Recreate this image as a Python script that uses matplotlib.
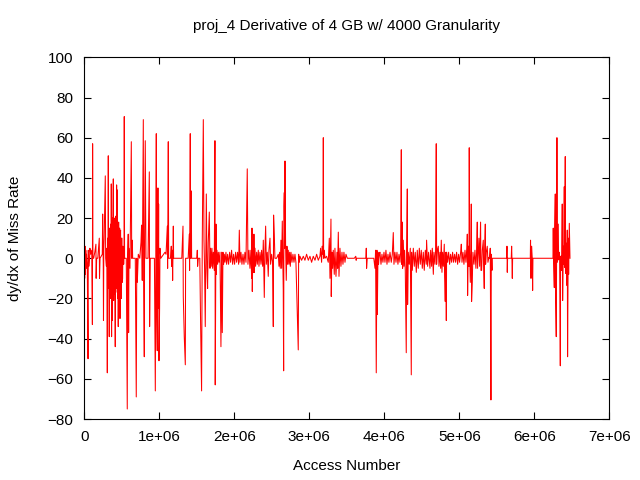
import matplotlib
matplotlib.use("Agg")
import matplotlib.pyplot as plt
from matplotlib.ticker import FuncFormatter, MultipleLocator

plt.rcParams['font.family'] = ['Liberation Sans', 'DejaVu Sans']

# (access number in millions, dy/dx), burst by burst
burst_start = [
    (0.000, 3), (0.005, -10), (0.010, 6), (0.015, -8), (0.020, 4), (0.025, -5),
    (0.030, 2), (0.040, -3), (0.050, -50), (0.053, 4), (0.060, -4), (0.070, 0),
    (0.075, 5), (0.085, 2), (0.100, 4), (0.108, -33), (0.111, 57), (0.115, 0),
    (0.125, 0), (0.140, 3), (0.155, 7), (0.158, -10), (0.165, 0), (0.180, 0),
    (0.200, 10), (0.203, -10), (0.210, 0), (0.240, 2), (0.245, 22), (0.253, -3),
    (0.256, -31), (0.260, 4), (0.265, 10), (0.280, 41), (0.285, 0), (0.295, -4),
]
burst_dense = [
    (0.300, 5), (0.307, -57), (0.312, 10), (0.316, -10), (0.320, 51), (0.324, -15),
    (0.328, 12), (0.333, -39), (0.337, 15), (0.342, 14), (0.346, -15), (0.350, -20),
    (0.354, 17), (0.358, -12), (0.360, 37), (0.364, -39), (0.367, 19), (0.370, -16),
    (0.373, -31), (0.377, 20), (0.380, -14), (0.382, 20), (0.387, 39.5), (0.391, -21),
    (0.394, 18), (0.397, -18), (0.400, 20), (0.404, -15), (0.407, 19), (0.409, -10),
    (0.413, -44), (0.416, 18), (0.419, -17), (0.422, 21), (0.426, -14), (0.431, 36.5),
    (0.436, -15), (0.440, 34), (0.444, -20), (0.448, 16), (0.453, -34), (0.458, 18),
    (0.462, -16), (0.467, -12), (0.471, 15), (0.476, -30), (0.480, 12), (0.484, 14),
    (0.488, -14), (0.493, -20), (0.497, 10), (0.502, 10), (0.506, -12), (0.511, -10),
    (0.515, 6), (0.520, 4), (0.525, -3), (0.530, 2),
]
burst_early = [
    (0.533, 70.5), (0.537, 0), (0.560, 0), (0.573, -75), (0.578, 0), (0.586, 12),
    (0.591, -37), (0.596, 5), (0.609, -5), (0.627, 58), (0.632, 0), (0.640, 9),
    (0.645, 0), (0.680, 0), (0.693, -69), (0.700, 0), (0.707, -12), (0.720, 2),
    (0.740, 0), (0.756, 8), (0.764, 16.5), (0.773, -11), (0.778, 15), (0.787, 69),
    (0.791, -10), (0.800, -49), (0.804, 8), (0.813, 58.5), (0.822, 0), (0.850, 0),
    (0.867, 43), (0.871, -34), (0.880, 0), (0.935, 0), (0.947, -66), (0.951, -27),
    (0.960, 62), (0.964, -22), (0.973, -46), (0.978, 10), (0.982, 35), (0.986, -25),
    (0.991, 27), (0.996, -51), (1.004, -25), (1.009, 5), (1.020, 0), (1.076, 3),
    (1.090, 2), (1.107, 16), (1.111, -5), (1.120, 58), (1.125, 0), (1.150, 0),
    (1.160, 6), (1.164, -4), (1.173, 4), (1.178, -11), (1.187, 16), (1.191, 0),
]
burst_mid = [
    (1.300, 0), (1.316, 16), (1.320, -19), (1.333, -39), (1.347, -53), (1.351, 0),
    (1.385, 0), (1.400, 12), (1.404, -6), (1.413, 62), (1.418, 0), (1.427, 33.5),
    (1.431, 0), (1.500, 0), (1.507, 4), (1.511, -4), (1.520, 0), (1.540, 0),
    (1.551, -33), (1.564, -66), (1.573, 8), (1.587, 69), (1.596, 9), (1.604, -5),
    (1.613, -34), (1.622, 10), (1.627, 32), (1.636, -5), (1.644, -15), (1.653, 8),
    (1.667, 23), (1.676, -5), (1.684, 5), (1.693, -4), (1.702, 5), (1.711, -5),
    (1.720, 3), (1.733, -6), (1.742, 58.5), (1.746, -63), (1.756, 17), (1.760, -8),
    (1.769, 4), (1.778, -3), (1.787, 3), (1.796, -2), (1.809, 3), (1.822, -44),
    (1.831, 3), (1.840, -37), (1.849, 3), (1.858, -3), (1.867, 2), (1.876, -2),
    (1.889, 3), (1.898, -3), (1.911, 2), (1.924, -3), (1.938, 3), (1.951, -2),
    (1.964, 4), (1.978, -3), (1.991, 2), (2.004, -3), (2.018, 3), (2.031, -2),
    (2.044, 3), (2.058, -3), (2.067, 14), (2.076, -2), (2.089, 3), (2.102, -3),
    (2.116, 2), (2.129, -3), (2.142, 3), (2.156, -2), (2.173, 44.5), (2.182, -3),
    (2.196, 4), (2.209, -5), (2.222, 4), (2.231, -10), (2.236, 15), (2.240, -16.5),
    (2.249, 8), (2.258, -7), (2.262, 12), (2.267, -7), (2.276, 5), (2.284, -4),
    (2.298, 3), (2.307, -3), (2.320, 4), (2.329, -4), (2.342, 3), (2.356, -3),
    (2.364, 4), (2.378, -4), (2.387, 9), (2.400, -19.5), (2.409, 4), (2.418, 16),
    (2.427, -3), (2.440, 3), (2.453, -9), (2.462, 4), (2.476, 10), (2.484, -3),
    (2.498, 2), (2.511, -2), (2.520, -34), (2.524, 21.5), (2.533, 12), (2.542, 0),
    (2.564, 0), (2.587, 2), (2.596, -4), (2.604, 3), (2.613, -5), (2.622, 9),
    (2.631, -5), (2.640, 18.5), (2.653, -16), (2.658, -56), (2.662, 26), (2.667, 32.7),
    (2.671, 5), (2.676, 48.4), (2.684, 7), (2.693, -11), (2.702, 6), (2.711, -3),
    (2.720, 4), (2.729, -3), (2.738, 3), (2.747, -4), (2.756, 3), (2.769, -2),
    (2.782, 2), (2.796, -2), (2.809, 2), (2.822, -2), (2.853, -45.6), (2.858, 2),
    (2.867, -2), (2.876, 1), (2.898, -1), (2.920, 1), (2.942, -1), (2.964, 2),
    (2.987, -1), (3.009, 1), (3.031, -2), (3.053, 1), (3.076, -1), (3.098, 2),
    (3.120, -1), (3.142, 1), (3.151, 5), (3.164, -2), (3.173, 6), (3.182, 2),
    (3.187, 60), (3.191, 0), (3.200, 4), (3.209, 0), (3.231, 1), (3.253, -2),
    (3.267, 10), (3.276, -10), (3.289, 19.5), (3.293, -19), (3.302, 3), (3.311, -5),
    (3.320, 4), (3.333, -8), (3.342, 5), (3.356, -9), (3.369, 3), (3.378, -5),
    (3.387, 13), (3.396, -9), (3.409, 5), (3.422, -4), (3.436, 3), (3.449, -3),
    (3.462, 3), (3.476, -2), (3.489, 2), (3.507, 0), (3.600, 0), (3.620, 1),
    (3.625, -1), (3.630, 0), (3.755, 0), (3.760, 5), (3.764, -5), (3.773, 0),
    (3.860, 0), (3.876, -5), (3.884, 4), (3.893, -57), (3.902, 4), (3.907, -28),
    (3.916, 3), (3.924, -3),
]
burst_late = [
    (3.933, 2), (3.942, 3), (3.956, -3), (3.969, 2), (3.982, -2), (3.996, 3),
    (4.009, -2), (4.022, 4), (4.036, -3), (4.049, 2), (4.062, -2), (4.076, 3),
    (4.093, -2), (4.107, 2), (4.120, 12.8), (4.129, -3), (4.142, 3), (4.156, -2),
    (4.169, 3), (4.182, -3), (4.196, 2), (4.209, -2), (4.218, 3), (4.227, 54),
    (4.231, -3), (4.240, 18), (4.244, -5), (4.253, 9), (4.262, -4), (4.271, 4),
    (4.280, -6), (4.293, -47), (4.298, 5), (4.307, 34.5), (4.311, -23), (4.320, 3),
    (4.333, -3), (4.347, 5), (4.360, -58), (4.364, 3), (4.373, -6), (4.387, 5),
    (4.400, -4), (4.413, 3), (4.427, -7), (4.440, 4), (4.453, -5), (4.467, 5),
    (4.480, -3), (4.493, 4), (4.507, -5), (4.520, 3), (4.533, -6), (4.547, 4),
    (4.560, -3), (4.564, 9), (4.578, -4), (4.591, 3), (4.609, -5), (4.618, 4),
    (4.631, -4), (4.640, 5), (4.654, -8), (4.662, 3), (4.676, -3), (4.684, 4),
    (4.693, 57), (4.698, -3), (4.707, 4), (4.720, 6), (4.729, -4), (4.742, 3),
    (4.751, -5), (4.760, 9), (4.769, -7), (4.778, 3), (4.787, -4), (4.800, 7),
    (4.804, -9), (4.813, -21.5), (4.822, 3), (4.827, -31), (4.831, 3), (4.844, -2),
    (4.858, 3), (4.871, -3), (4.884, 2), (4.898, -2), (4.911, 3), (4.924, -2),
    (4.938, 2), (4.951, -2), (4.964, 3), (4.978, -3), (4.991, 2), (5.004, -2),
    (5.018, 3), (5.027, 7), (5.036, -2), (5.049, 3), (5.062, -3), (5.076, 4),
    (5.089, -2), (5.102, 5), (5.107, 12), (5.111, -18.5), (5.120, 6), (5.129, -4),
    (5.133, 55), (5.138, 3), (5.147, -12), (5.156, 5), (5.160, 27), (5.164, -21.5),
    (5.173, -12), (5.182, 3), (5.196, -3), (5.209, 4), (5.222, -5), (5.231, 3),
    (5.240, 18), (5.244, -5), (5.253, 3), (5.262, 10), (5.271, -4), (5.284, 18),
    (5.289, -6), (5.298, -6), (5.307, 4), (5.320, 9), (5.324, -3), (5.333, -15),
    (5.338, 4), (5.347, 17), (5.351, -3), (5.360, 3), (5.373, 6), (5.382, -2),
    (5.396, 0.5), (5.404, 0), (5.413, 5), (5.418, -35), (5.422, -70.5), (5.427, 2),
    (5.436, -6), (5.440, 0), (5.632, 0), (5.636, 6), (5.640, -7), (5.644, 0),
    (5.693, 0), (5.698, 6), (5.702, 0), (5.707, -10), (5.711, 0), (5.947, 0),
    (5.950, 9), (5.956, -10), (5.964, 6), (5.973, 0), (5.978, -16), (5.982, 0),
]
burst_end = [
    (6.249, 0), (6.253, 15), (6.258, -2.5), (6.267, -14.6), (6.271, 12), (6.280, 32),
    (6.284, -20), (6.293, -39), (6.298, 5), (6.302, 60), (6.307, -2), (6.320, 17),
    (6.324, -0.8), (6.333, 3), (6.338, 0), (6.347, -53.5), (6.351, 1), (6.360, 1),
    (6.364, -6), (6.373, 27), (6.378, -21), (6.387, 6), (6.391, -3), (6.400, 35.6),
    (6.404, -4.5), (6.413, 50.6), (6.418, -7.5), (6.427, 7.5), (6.431, -13.4),
    (6.440, 14), (6.444, -49), (6.453, 10), (6.458, -8), (6.467, 17.4), (6.476, 0),
]

bursts = [burst_start, burst_dense, burst_early, burst_mid, burst_late, burst_end]
access = [x * 1e6 for b in bursts for x, _ in b]
deriv = [y for b in bursts for _, y in b]

fig = plt.figure(figsize=(6.4, 4.8), dpi=100)
ax = fig.add_axes([0.1317, 0.127, 0.8203, 0.7536])
ax.plot(access, deriv, color='red', lw=0.75)

ax.set_xlim(0, 7e6)
ax.set_ylim(-80, 100)
ax.xaxis.set_major_locator(MultipleLocator(1e6))
ax.yaxis.set_major_locator(MultipleLocator(20))
ax.xaxis.set_major_formatter(FuncFormatter(lambda v, p: '0' if v == 0 else f'{v/1e6:.0f}e+06'))
ax.tick_params(direction='in', length=5, width=0.8, top=True, right=True,
               labelsize=11, pad=8)
for s in ax.spines.values():
    s.set_linewidth(0.8)

ax.set_title('proj_4 Derivative of 4 GB w/ 4000 Granularity', fontsize=11, pad=20)
ax.set_xlabel('Access Number', fontsize=11, labelpad=11)
ax.set_ylabel('dy/dx of Miss Rate', fontsize=11, labelpad=18)

fig.savefig('out.png', dpi=100)
